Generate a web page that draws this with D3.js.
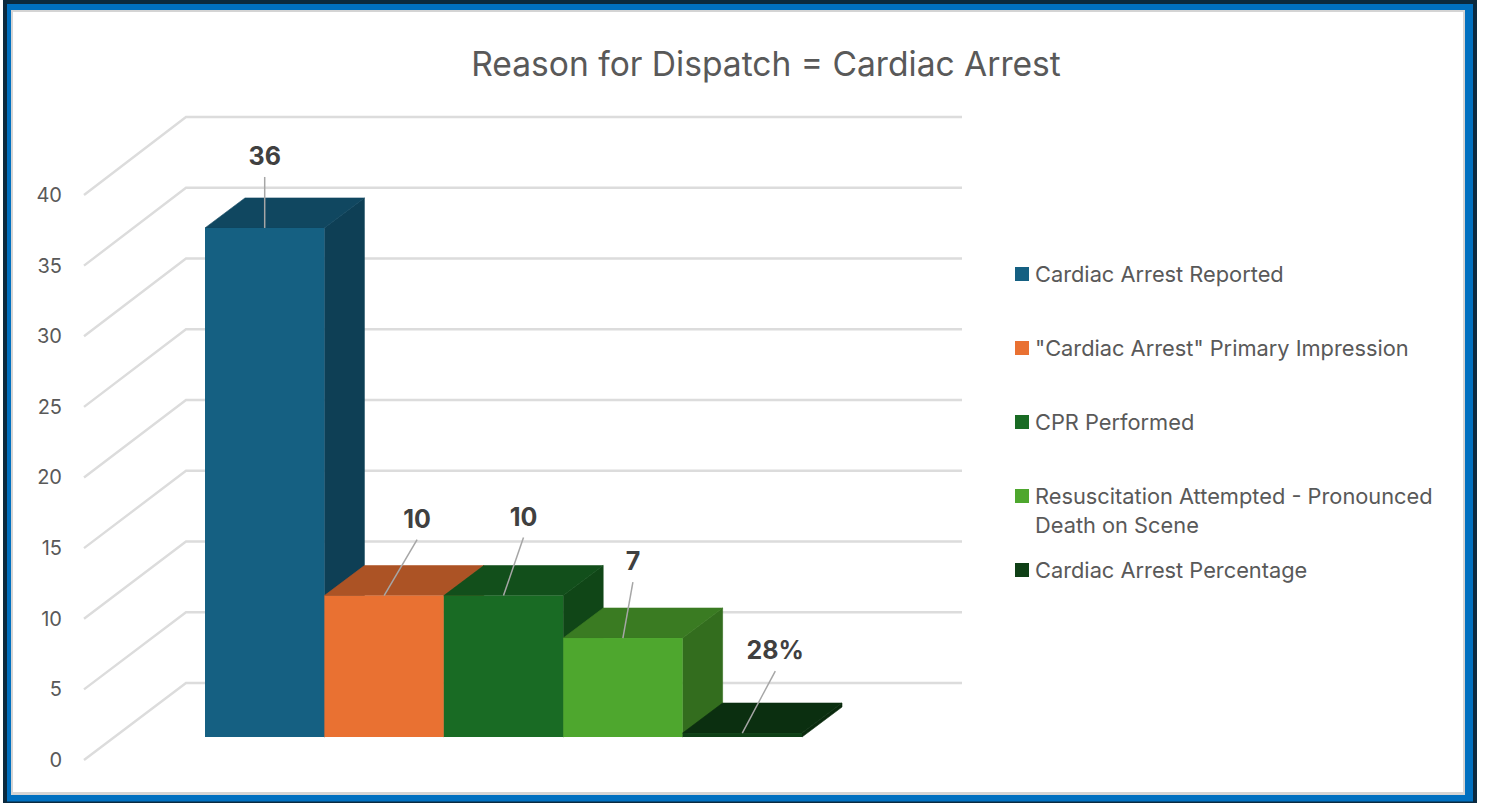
<!DOCTYPE html>
<html>
<head>
<meta charset="utf-8">
<script src="https://cdn.jsdelivr.net/npm/d3@7"></script>
<style>
  html, body { margin: 0; padding: 0; background: #fff; overflow: hidden; }
  svg { display: block; }
  text { font-family: "Inter", sans-serif; }
</style>
</head>
<body>
<svg id="chart" width="1485" height="803"></svg>
<script>
const categories = ["Cardiac Arrest Reported", "\"Cardiac Arrest\" Primary Impression", "CPR Performed", "Resuscitation Attempted - Pronounced Death on Scene", "Cardiac Arrest Percentage"];
const values = [36, 10, 10, 7, 0.28];
const valueLabels = ["36", "10", "10", "7", "28%"];
const colors = ["#156082", "#E97132", "#196B24", "#4EA72E", "#0F4016"];
const yTicks = [0, 5, 10, 15, 20, 25, 30, 35, 40];
const legendLines = [["Cardiac Arrest Reported"], ["\"Cardiac Arrest\" Primary Impression"], ["CPR Performed"], ["Resuscitation Attempted - Pronounced", "Death on Scene"], ["Cardiac Arrest Percentage"]];

const svg = d3.select("#chart");

// frame, outside in
const frame = [[3, 0, 1474, 803, "#0b2a3f"], [7, 4, 1466, 797.5, "#0070c0"], [11, 10, 1454, 785, "#d4d4d4"], [13, 12, 1450, 780, "#ffffff"]];
svg.selectAll("rect.frame").data(frame).join("rect")
    .attr("class", "frame")
    .attr("x", d => d[0]).attr("y", d => d[1])
    .attr("width", d => d[2]).attr("height", d => d[3])
    .attr("fill", d => d[4]);

svg.append("text")
    .attr("x", 766).attr("y", 76)
    .attr("text-anchor", "middle")
    .attr("font-size", 33.6)
    .attr("fill", "#595959")
    .text("Reason for Dispatch = Cardiac Arrest");

// three planes of the fake 3d box
let yFront = d3.scaleLinear().domain([0, 40]).range([760, 195]);
let yBack = d3.scaleLinear().domain([0, 40]).range([683, 117]);
let yBar = d3.scaleLinear().domain([0, 40]).range([737, 171.4]);
let x = d3.scaleBand().domain(categories).range([205, 802]);
const depthX = 40, depthY = 30;

// gridlines
let grid = svg.append("g").attr("fill", "none").attr("stroke", "#dcdcdc").attr("stroke-width", 2.4);
yTicks.forEach(t => {
    grid.append("polyline")
        .attr("points", [[84, yFront(t)], [186, yBack(t)], [962, yBack(t)]].join(" "));
});

// tick labels
let axis = d3.axisLeft(yFront).tickValues(yTicks).tickSize(0).tickPadding(0);
let axisG = svg.append("g").attr("transform", "translate(62,0)").call(axis);
axisG.select(".domain").remove();
axisG.selectAll("text")
    .attr("font-size", 20)
    .attr("font-family", "\"Inter\", sans-serif")
    .attr("fill", "#595959");

// bars left to right so each one covers the side of the previous one
categories.forEach((c, i) => {
    let x0 = x(c);
    let x1 = x0 + x.bandwidth();
    let top = yBar(values[i]);
    let base = yBar(0);
    let col = d3.rgb(colors[i]);
    let sideCol = col.darker(1.2);
    let topCol = col.darker(0.85);
    svg.append("polygon")
        .attr("points", [[x1, top], [x1 + depthX, top - depthY], [x1 + depthX, base - depthY], [x1, base]].join(" "))
        .attr("fill", sideCol)
        .attr("stroke", sideCol).attr("stroke-width", 0.6);
    svg.append("polygon")
        .attr("points", [[x0, top], [x1, top], [x1 + depthX, top - depthY], [x0 + depthX, top - depthY]].join(" "))
        .attr("fill", topCol)
        .attr("stroke", topCol).attr("stroke-width", 0.6);
    svg.append("rect")
        .attr("x", x0).attr("y", top)
        .attr("width", x.bandwidth()).attr("height", base - top)
        .attr("fill", col);
});

// data labels, offset from the bar center along a leader line
const labelDx = [0, 33, 20, 10, 33];
const labelDy = [-51, -56, -58, -56, -62];
categories.forEach((c, i) => {
    let cx = x(c) + x.bandwidth() / 2;
    let top = yBar(values[i]);
    svg.append("line")
        .attr("x1", cx).attr("y1", top)
        .attr("x2", cx + labelDx[i]).attr("y2", top + labelDy[i])
        .attr("stroke", "#a6a6a6").attr("stroke-width", 1.5);
    svg.append("text")
        .attr("x", cx + labelDx[i]).attr("y", top + labelDy[i] - 12)
        .attr("text-anchor", "middle")
        .attr("font-size", 25)
        .attr("font-weight", "bold")
        .attr("fill", "#404040")
        .text(valueLabels[i]);
});

// legend
let legendY = d3.scalePoint().domain(categories).range([274, 570]);
categories.forEach((c, i) => {
    let ly = legendY(c);
    svg.append("rect")
        .attr("x", 1015).attr("y", ly - 7)
        .attr("width", 14).attr("height", 14)
        .attr("fill", colors[i]);
    legendLines[i].forEach((line, j) => {
        svg.append("text")
            .attr("x", 1035).attr("y", ly + 7.5 + j * 29)
            .attr("font-size", 21.8)
            .attr("fill", "#595959")
            .text(line);
    });
});
</script>
</body>
</html>
